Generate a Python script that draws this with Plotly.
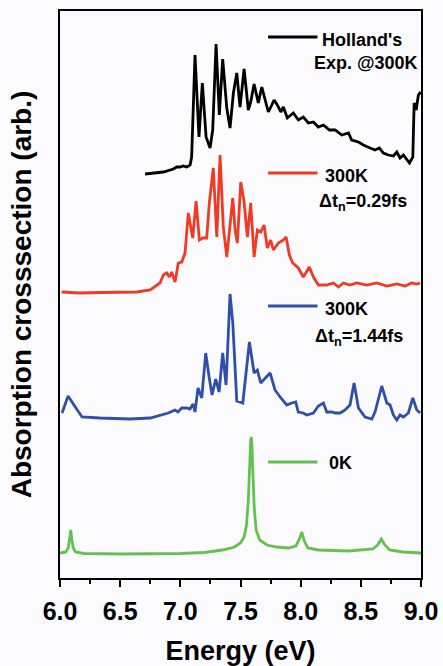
import plotly.graph_objects as go

# ---- data (energy in eV, signal in arb. units, curves already vertically offset) ----
green_E = [6.00, 6.05, 6.07, 6.085, 6.09, 6.095, 6.11, 6.13, 6.2, 6.5, 7.0, 7.2, 7.35, 7.45, 7.5, 7.53,
           7.55, 7.565, 7.575, 7.585, 7.59, 7.595, 7.605, 7.615, 7.63, 7.66, 7.72, 7.8, 7.9, 7.96,
           7.99, 8.01, 8.03, 8.06, 8.15, 8.4, 8.6, 8.64, 8.67, 8.70, 8.74, 8.85, 9.0]
green_y = [25, 26, 31, 41, 48, 41, 30, 26, 24.5, 24, 24.5, 25.5, 28, 31, 35, 41,
           53, 78, 113, 138, 141, 133, 98, 68, 48, 38, 33, 31, 30, 32,
           39, 46, 37, 30, 28, 27, 29, 33, 39, 33, 28, 26, 25]

blue_E = [6.017, 6.067, 6.116, 6.183, 6.33, 6.58, 6.75, 6.856, 6.90, 6.956, 6.98, 7.012, 7.053, 7.08,
          7.106, 7.122, 7.147, 7.178, 7.211, 7.239, 7.264, 7.294, 7.322, 7.352, 7.38, 7.413, 7.436,
          7.469, 7.519, 7.574, 7.613, 7.64, 7.668, 7.746, 7.787, 7.829, 7.884, 7.926, 7.959, 7.98,
          8.022, 8.05, 8.106, 8.147, 8.189, 8.217, 8.258, 8.286, 8.328, 8.369, 8.41, 8.444, 8.48,
          8.535, 8.591, 8.618, 8.674, 8.716, 8.743, 8.771, 8.799, 8.826, 8.854, 8.895, 8.932, 8.965, 8.993]
blue_y = [165, 182, 173, 161, 160, 159, 160, 163, 165, 168, 166, 170, 170, 169,
          174, 166, 190, 180, 225, 201, 183, 199, 186, 225, 193, 284, 255,
          177, 175, 236, 205, 208, 195, 205, 188, 181, 173, 175, 176, 166,
          165, 163, 165, 172, 175, 166, 166, 165, 165, 168, 173, 195, 170,
          161, 159, 166, 192, 175, 173, 163, 158, 163, 161, 165, 180, 168, 165]

red_E = [6.014, 6.166, 6.333, 6.5, 6.638, 6.75, 6.804, 6.831, 6.859, 6.887, 6.909, 6.928, 6.956, 6.983,
         7.012, 7.039, 7.066, 7.089, 7.103, 7.131, 7.158, 7.186, 7.219, 7.241, 7.274, 7.303, 7.33,
         7.357, 7.386, 7.436, 7.455, 7.474, 7.502, 7.53, 7.557, 7.585, 7.613, 7.64, 7.668, 7.696,
         7.723, 7.751, 7.773, 7.815, 7.856, 7.879, 7.906, 7.934, 7.981, 8.022, 8.072, 8.106, 8.147,
         8.217, 8.272, 8.314, 8.355, 8.41, 8.466, 8.549, 8.633, 8.716, 8.8, 8.868, 8.923, 8.965, 8.993]
red_y = [286, 285, 285.5, 286, 286, 288, 293, 295, 303, 305, 301, 306, 296, 315,
         316, 325, 365, 351, 340, 377, 338, 340, 340, 375, 410, 341, 423,
         351, 321, 380, 348, 335, 396, 376, 341, 375, 321, 348, 346, 353,
         330, 338, 328, 335, 338, 341, 323, 315, 310, 301, 311, 301, 293,
         293, 295, 291, 295, 293, 295, 293, 295, 292, 294, 292, 295, 294, 295]

black_E = [6.707, 6.804, 6.859, 6.942, 6.97, 6.998, 7.025, 7.053, 7.081, 7.094, 7.122, 7.155, 7.183,
           7.214, 7.247, 7.269, 7.297, 7.324, 7.352, 7.386, 7.413, 7.441, 7.469, 7.496, 7.53, 7.565,
           7.585, 7.613, 7.648, 7.677, 7.704, 7.731, 7.76, 7.779, 7.806, 7.835, 7.856, 7.889, 7.939,
           7.981, 8.022, 8.064, 8.106, 8.147, 8.189, 8.239, 8.286, 8.342, 8.397, 8.424, 8.48, 8.521,
           8.577, 8.618, 8.654, 8.687, 8.729, 8.771, 8.799, 8.826, 8.854, 8.904, 8.932, 8.943, 8.96,
           8.978, 8.998]
black_y = [404, 405, 406, 409, 411, 411, 412, 411, 413, 421, 523, 441, 495,
           441, 430, 448, 534, 463, 519, 470, 450, 485, 505, 471, 509, 468,
           476, 494, 475, 491, 478, 466, 473, 478, 473, 466, 471, 460, 465,
           458, 461, 455, 456, 451, 453, 448, 448, 443, 445, 438, 436, 433,
           430, 428, 430, 425, 423, 422, 426, 420, 423, 415, 421, 475, 468,
           483, 486]

xticks = [6.0, 6.5, 7.0, 7.5, 8.0, 8.5, 9.0]

FONT = "Liberation Sans, Arial, sans-serif"
C_BLACK = "#000000"
C_RED = "#f03a24"
C_BLUE = "#2f4fa8"
C_GREEN = "#62c150"

fig = go.Figure()
for E, y, c in [(black_E, black_y, C_BLACK), (red_E, red_y, C_RED),
                (blue_E, blue_y, C_BLUE), (green_E, green_y, C_GREEN)]:
    fig.add_trace(go.Scatter(x=E, y=y, mode="lines",
                             line=dict(color=c, width=2.8), showlegend=False,
                             hoverinfo="skip"))

# legend samples + labels
legend = [
    (C_BLACK, 541, ["Holland's", "Exp. @300K"], [(8.161, 538), (8.092, 515)]),
    (C_RED, 405, ["300K", "Δt<sub>n</sub>=0.29fs"], [(8.186, 402), (8.136, 376)]),
    (C_BLUE, 272, ["300K", "Δt<sub>n</sub>=1.44fs"], [(8.186, 269), (8.103, 241)]),
    (C_GREEN, 116, ["0K"], [(8.219, 115)]),
]
for c, ly, texts, poss in legend:
    fig.add_shape(type="line", xref="x", yref="y", x0=7.729, x1=8.14, y0=ly, y1=ly,
                  line=dict(color=c, width=2.8))
    for t, (tx, ty) in zip(texts, poss):
        fig.add_annotation(x=tx, y=ty, xref="x", yref="y", text=f"<b>{t}</b>",
                           showarrow=False, xanchor="left", yanchor="middle",
                           font=dict(family=FONT, size=18, color="black"))

fig.update_layout(
    width=443, height=666,
    margin=dict(l=60, r=22, t=11, b=88),
    paper_bgcolor="#fbfbfe", plot_bgcolor="#fbfbfe",
    font=dict(family=FONT, color="black"),
    xaxis=dict(range=[6.0, 9.0], tickvals=xticks, ticktext=[f"{v:.1f}" for v in xticks],
               showline=True, linecolor="black", linewidth=2, mirror=True,
               ticks="outside", ticklen=7, tickwidth=2, tickcolor="black",
               minor=dict(dtick=0.25, tick0=6.0, ticks="outside", ticklen=4, tickwidth=2,
                          tickcolor="black", showgrid=False),
               showgrid=False, zeroline=False, ticklabelstandoff=3, automargin=False,
               tickfont=dict(family=FONT, size=25, weight="bold"),
               title=dict(text="<b>Energy (eV)</b>", font=dict(family=FONT, size=27), standoff=18)),
    yaxis=dict(range=[0, 567], showline=True, linecolor="black", linewidth=2, mirror=True,
               ticks="", showticklabels=False, showgrid=False, zeroline=False, automargin=False,
               title=dict(text="<b>Absorption crosssection (arb.)</b>",
                          font=dict(family=FONT, size=28), standoff=18)),
)

fig.write_html("out.html")
